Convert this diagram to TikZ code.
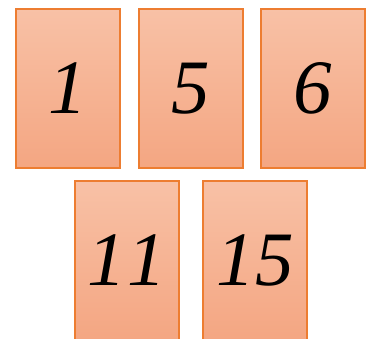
\documentclass[tikz,border=0pt]{standalone}
\usepackage{fontspec}
\setmainfont{Liberation Serif}
\definecolor{cardtop}{RGB}{248,193,166}
\definecolor{cardbot}{RGB}{244,166,130}
\definecolor{cardedge}{RGB}{237,125,49}
\tikzset{
  card/.style={rectangle, draw=cardedge, line width=2pt, top color=cardtop, bottom color=cardbot,
    minimum width=104pt, minimum height=159pt, inner sep=0pt,
    font=\fontsize{77}{77}\selectfont\itshape, text=black}
}
\begin{document}
\begin{tikzpicture}[x=1pt,y=-1pt]
\useasboundingbox (0,0) rectangle (372,339);
\clip (0,0) rectangle (372,339);
\node[card] (c1) at (68,88.5) {1};
\node[card] (c5) at (191,88.5) {5};
\node[card] (c6) at (313,88.5) {6};
\node[card] (c11) at (126.5,260.5) {1\kern2pt1};
\node[card] (c15) at (255,260.5) {15};
\end{tikzpicture}
\end{document}
